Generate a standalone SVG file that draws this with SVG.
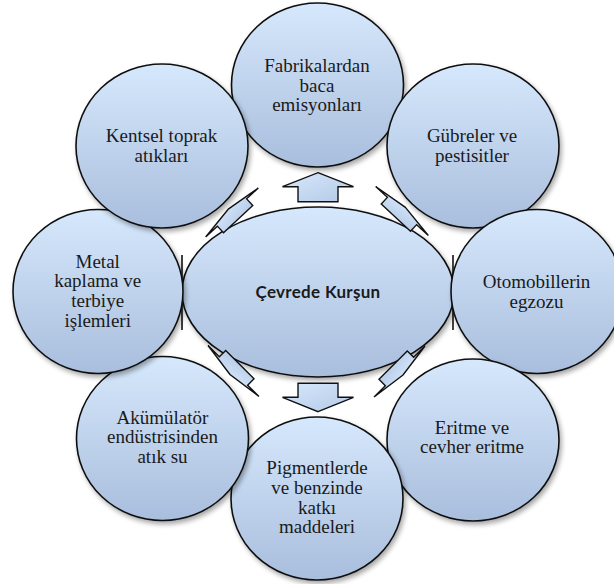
<svg xmlns="http://www.w3.org/2000/svg" width="614" height="584" viewBox="0 0 614 584">
<defs>
<linearGradient id="g" x1="0" y1="0" x2="0" y2="1">
<stop offset="0" stop-color="#d6e8fc"/>
<stop offset="1" stop-color="#a9bedd"/>
</linearGradient>
<linearGradient id="ga" x1="0" y1="0" x2="1" y2="1">
<stop offset="0" stop-color="#d6e8fc"/>
<stop offset="1" stop-color="#b4c9e6"/>
</linearGradient>
<filter id="sh" x="-20%" y="-20%" width="140%" height="140%">
<feGaussianBlur in="SourceAlpha" stdDeviation="2.5"/>
<feOffset dx="1.5" dy="3" result="b"/>
<feComponentTransfer><feFuncA type="linear" slope="0.35"/></feComponentTransfer>
<feMerge><feMergeNode/><feMergeNode in="SourceGraphic"/></feMerge>
</filter>
</defs>
<style>
.n{fill:url(#g);stroke:#111;stroke-width:1.6;filter:url(#sh)}
.a{fill:url(#ga);stroke:#111;stroke-width:1.4;stroke-linejoin:miter}
.t{font-family:'Liberation Serif','Times New Roman','Noto Serif','DejaVu Serif',Tinos,FreeSerif,Georgia,serif;font-size:19px;fill:#1a1a1a;text-anchor:middle}
.c{font-family:Lato,'Liberation Sans',sans-serif;font-weight:700;font-size:17px;letter-spacing:0.3px;fill:#1a1a1a;text-anchor:middle}
</style>
<rect width="614" height="584" fill="#fff"/>

<g id="center">
<ellipse class="n" cx="318" cy="292" rx="136" ry="85"/>
<text class="c" x="318" y="297.5">Çevrede Kurşun</text>
</g>

<g id="connectors">
<path class="a" d="M318,172.7 L353.5,186.7 L338,186.7 L338,201.7 L298,201.7 L298,186.7 L282.5,186.7 Z"/>
<path class="a" d="M318,411.7 L353.5,397.3 L338,397.3 L338,383.3 L298,383.3 L298,397.3 L282.5,397.3 Z"/>
<path class="a" transform="translate(232,212.5) rotate(-43)" d="M0,-5 L36,0 L20,0 L20,9 L-20,9 L-20,0 L-36,0 Z"/>
<path class="a" transform="translate(402,211) rotate(43)" d="M0,-5 L36,0 L20,0 L20,9 L-20,9 L-20,0 L-36,0 Z"/>
<path class="a" transform="translate(233.5,371) rotate(-135)" d="M0,-5 L36,0 L20,0 L20,9 L-20,9 L-20,0 L-36,0 Z"/>
<path class="a" transform="translate(399.5,371.5) rotate(135)" d="M0,-5 L36,0 L20,0 L20,9 L-20,9 L-20,0 L-36,0 Z"/>
<line x1="182" y1="255" x2="182" y2="330" stroke="#111" stroke-width="1.6"/>
<line x1="453" y1="255" x2="453" y2="330" stroke="#111" stroke-width="1.6"/>
</g>

<g id="n1">
<ellipse class="n" cx="317.5" cy="85" rx="86" ry="82"/>
<text class="t" x="317" y="72">Fabrikalardan</text>
<text class="t" x="317" y="91.5">baca</text>
<text class="t" x="317" y="111">emisyonları</text>
</g>
<g id="n2">
<ellipse class="n" cx="473" cy="146" rx="86" ry="82"/>
<text class="t" x="472" y="141.7">Gübreler ve</text>
<text class="t" x="472" y="161.7">pestisitler</text>
</g>
<g id="n3">
<ellipse class="n" cx="537" cy="291.5" rx="86" ry="82"/>
<text class="t" x="536.5" y="287.7">Otomobillerin</text>
<text class="t" x="536.5" y="307.7">egzozu</text>
</g>
<g id="n4">
<ellipse class="n" cx="473" cy="440" rx="86" ry="81"/>
<text class="t" x="472" y="434">Eritme  ve</text>
<text class="t" x="472" y="453.3">cevher eritme</text>
</g>
<g id="n5">
<ellipse class="n" cx="317" cy="498.5" rx="86" ry="81.5"/>
<text class="t" x="317" y="474">Pigmentlerde</text>
<text class="t" x="317" y="494">ve benzinde</text>
<text class="t" x="317" y="514">katkı</text>
<text class="t" x="317" y="533.3">maddeleri</text>
</g>
<g id="n6">
<ellipse class="n" cx="162.5" cy="438.5" rx="86" ry="82"/>
<text class="t" x="162.5" y="424">Akümülatör</text>
<text class="t" x="162.5" y="443.3">endüstrisinden</text>
<text class="t" x="162.5" y="462.7">atık su</text>
</g>
<g id="n7">
<ellipse class="n" cx="98" cy="291.5" rx="85" ry="82"/>
<text class="t" x="97.7" y="267.7">Metal</text>
<text class="t" x="97.7" y="287.3">kaplama  ve</text>
<text class="t" x="97.7" y="306.7">terbiye</text>
<text class="t" x="97.7" y="326.7">işlemleri</text>
</g>
<g id="n8">
<ellipse class="n" cx="162" cy="146" rx="86" ry="82"/>
<text class="t" x="161.5" y="141.7">Kentsel  toprak</text>
<text class="t" x="161.5" y="161.7">atıkları</text>
</g>
</svg>
